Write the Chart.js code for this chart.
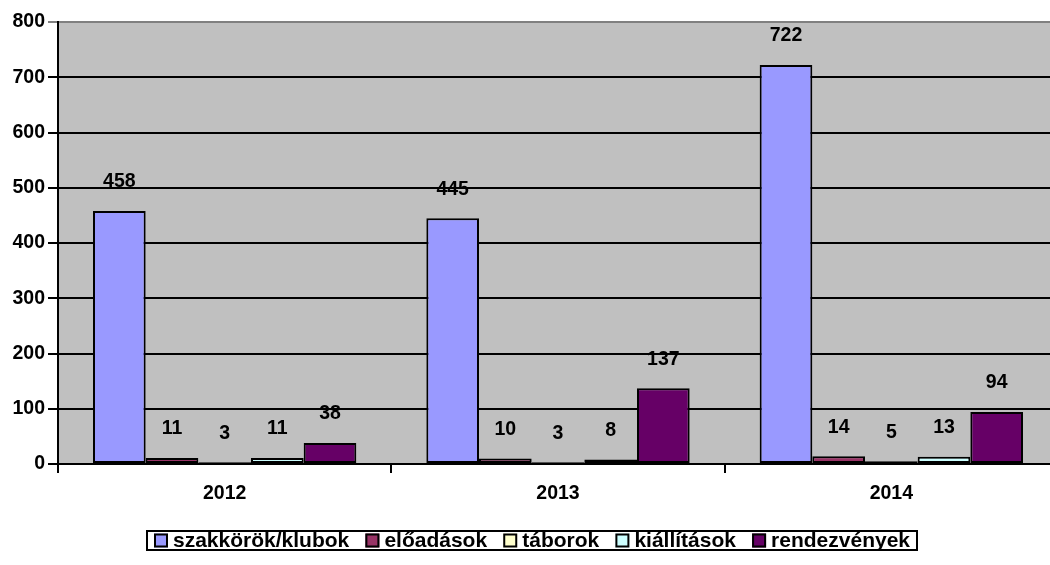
<!DOCTYPE html>
<html>
<head>
<meta charset="utf-8">
<script src="https://cdn.jsdelivr.net/npm/chart.js@4.4.1/dist/chart.umd.min.js"></script>
<style>
  html, body { margin: 0; padding: 0; background: #fff; overflow: hidden; }
  #wrap { position: absolute; left: 0; top: 0; width: 1058px; height: 565px; }
</style>
</head>
<body>
<div id="wrap"><canvas id="chart"></canvas></div>
<script>
const years = ['2012', '2013', '2014'];
const seriesNames = ['szakkörök/klubok', 'előadások', 'táborok', 'kiállítások', 'rendezvények'];
const szakkorok = [458, 445, 722];
const eloadasok = [11, 10, 14];
const taborok = [3, 3, 5];
const kiallitasok = [11, 8, 13];
const rendezvenyek = [38, 137, 94];
const yTicks = [0, 100, 200, 300, 400, 500, 600, 700, 800];

const colors = ['#9999FF', '#993366', '#FFFFCC', '#CCFFFF', '#660066'];
const values = [szakkorok, eloadasok, taborok, kiallitasok, rendezvenyek];

const FONT = '"Liberation Sans", Arial, sans-serif';
const SIZE = 19.5;

// gray plot area
const plotBg = {
    id: 'plotBg',
    beforeDraw(chart) {
        const a = chart.chartArea, ctx = chart.ctx;
        ctx.save();
        ctx.fillStyle = '#C0C0C0';
        ctx.fillRect(a.left, a.top, a.right - a.left, a.bottom - a.top);
        ctx.restore();
    }
};

// value labels above bars
const valueLabels = {
    id: 'valueLabels',
    afterDatasetsDraw(chart) {
        const ctx = chart.ctx;
        ctx.save();
        ctx.font = 'bold ' + SIZE + 'px ' + FONT;
        ctx.fillStyle = '#000';
        ctx.textAlign = 'center';
        ctx.textBaseline = 'middle';
        chart.data.datasets.forEach((ds, i) => {
            chart.getDatasetMeta(i).data.forEach((bar, j) => {
                ctx.fillText(ds.data[j], bar.x, bar.y - 29);
            });
        });
        ctx.restore();
    }
};

// boxed legend under the axis
const boxedLegend = {
    id: 'boxedLegend',
    afterDraw(chart) {
        const ctx = chart.ctx;
        const ds = chart.data.datasets;
        ctx.save();
        ctx.font = 'bold 21px ' + FONT;
        const left = 147, right = 917, top = 531, h = 19;
        const box = 14, gap = 5, pad = 7;
        const widths = ds.map(d => ctx.measureText(d.label).width);
        let used = pad * 2;
        widths.forEach(w => { used += box + gap + w; });
        const sep = (right - left - used) / (ds.length - 1);
        const cy = top + h / 2;
        ctx.strokeStyle = '#000';
        ctx.lineWidth = 2;
        ctx.strokeRect(left, top, right - left, h);
        let x = left + pad;
        ctx.textBaseline = 'middle';
        ctx.textAlign = 'left';
        ds.forEach((d, i) => {
            ctx.fillStyle = d.backgroundColor;
            ctx.fillRect(x, cy - box / 2, box, box);
            ctx.lineWidth = 2;
            ctx.strokeRect(x + 1, cy - box / 2 + 1, box - 2, box - 2);
            ctx.fillStyle = '#000';
            ctx.fillText(d.label, x + box + gap, cy + 1);
            x += box + gap + widths[i] + sep;
        });
        ctx.restore();
    }
};

new Chart(document.getElementById('chart'), {
    type: 'bar',
    data: {
        labels: years,
        datasets: seriesNames.map((name, i) => ({
            label: name,
            data: values[i],
            backgroundColor: colors[i],
            borderColor: '#000',
            borderWidth: 2,
            borderSkipped: false,
            categoryPercentage: 0.79,
            barPercentage: 1
        }))
    },
    options: {
        responsive: true,
        maintainAspectRatio: false,
        animation: false,
        layout: { padding: { top: 22, right: 0, bottom: 0, left: 0 } },
        plugins: {
            tooltip: { enabled: false },
            legend: { display: false }
        },
        scales: {
            x: {
                grid: {
                    offset: true,
                    drawOnChartArea: false,
                    color: '#000',
                    lineWidth: 2,
                    tickLength: 9
                },
                border: { color: '#000', width: 2 },
                ticks: {
                    color: '#000',
                    padding: 9,
                    font: { family: FONT, size: SIZE, weight: 'bold' }
                },
                afterFit(scale) { scale.height = 101; }
            },
            y: {
                min: 0,
                max: 800,
                afterBuildTicks(scale) { scale.ticks = yTicks.map(v => ({ value: v })); },
                grid: {
                    color: ctx => ctx.tick && ctx.tick.value === 800 ? '#808080' : '#000',
                    lineWidth: 2,
                    tickLength: 10
                },
                border: { color: '#000', width: 2 },
                ticks: {
                    color: '#000',
                    padding: 3,
                    font: { family: FONT, size: SIZE, weight: 'bold' }
                },
                afterFit(scale) { scale.width = 58; }
            }
        }
    },
    plugins: [plotBg, valueLabels, boxedLegend]
});
</script>
</body>
</html>
